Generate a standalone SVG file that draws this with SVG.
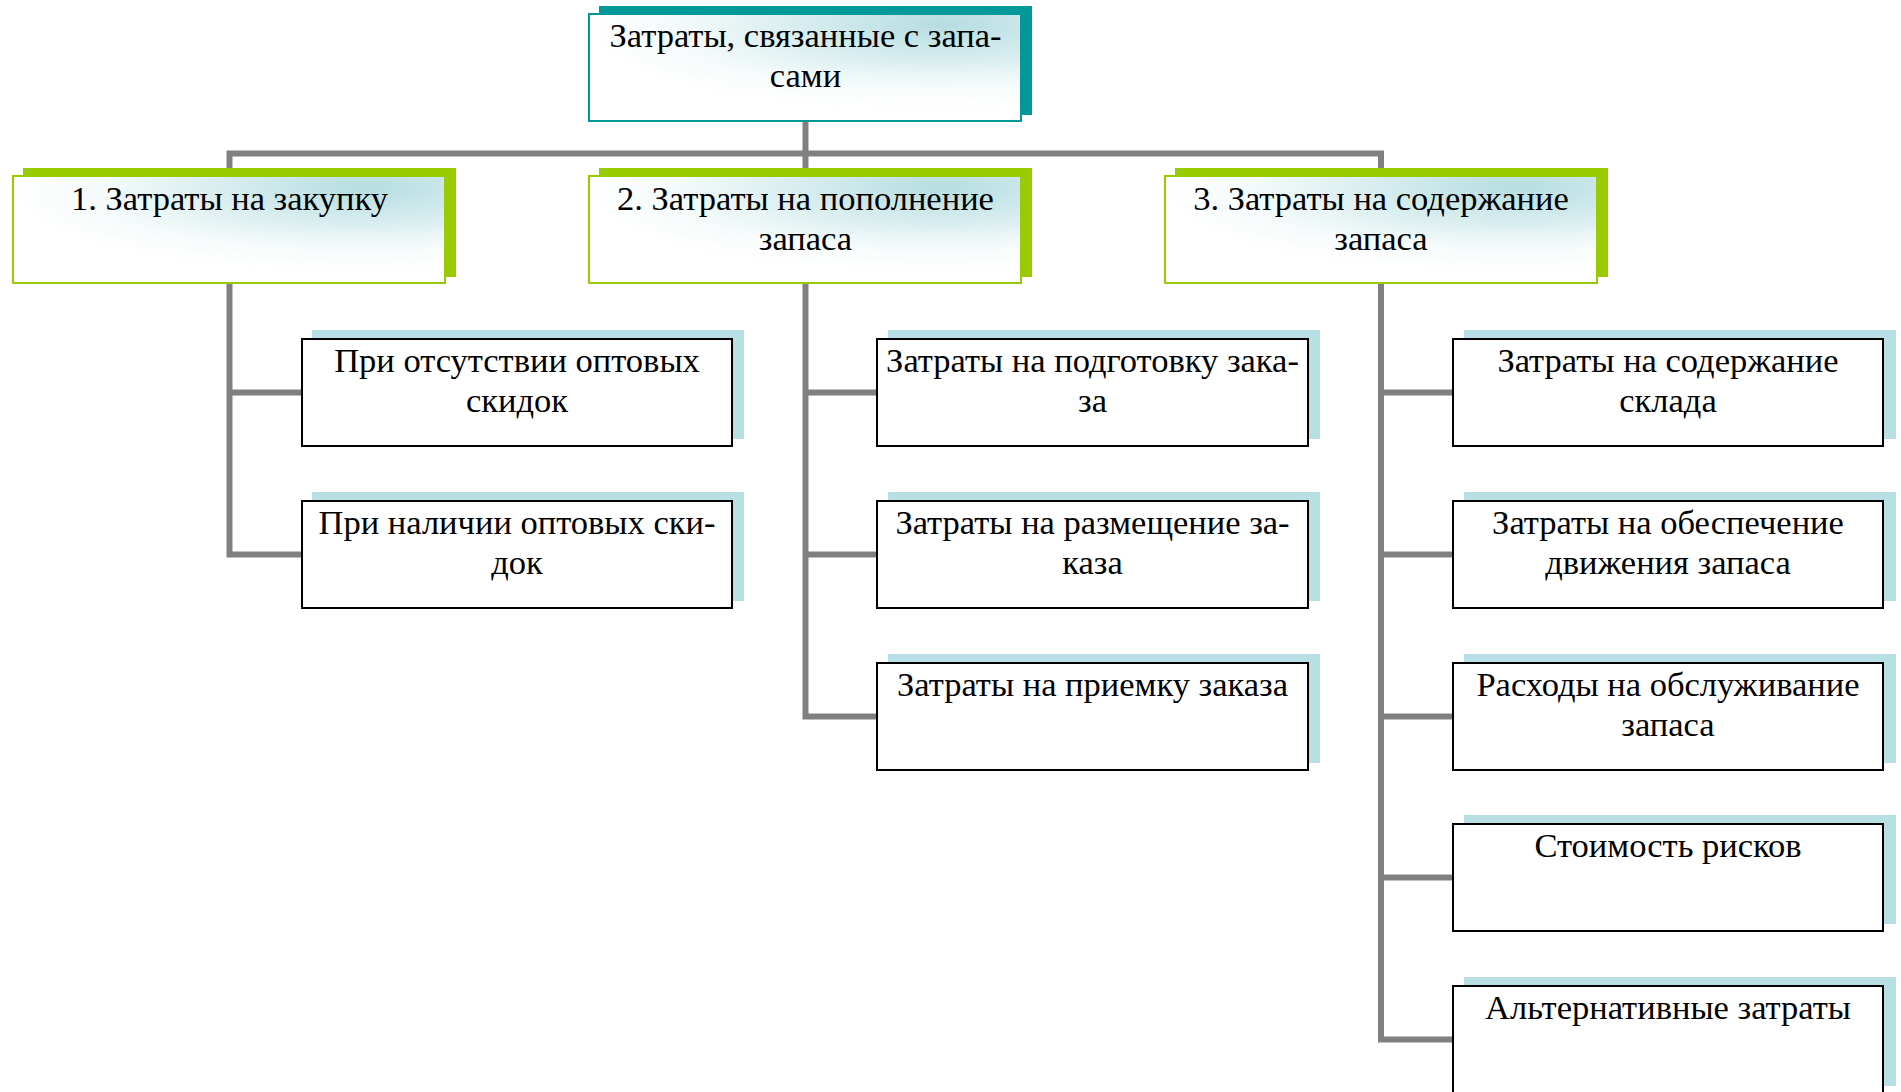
<svg xmlns="http://www.w3.org/2000/svg" width="1901" height="1092" viewBox="0 0 1901 1092">
  <defs>
    <radialGradient id="tint" cx="0.8" cy="0.12" r="0.8" fx="0.82" fy="0.1">
      <stop offset="0" stop-color="#b6dde1"/>
      <stop offset="0.35" stop-color="#d3ebed"/>
      <stop offset="0.75" stop-color="#f4fafa"/>
      <stop offset="1" stop-color="#ffffff"/>
    </radialGradient>
    <linearGradient id="fade" x1="0" y1="0" x2="0" y2="1">
      <stop offset="0.45" stop-color="#ffffff" stop-opacity="0"/>
      <stop offset="1" stop-color="#ffffff" stop-opacity="0.85"/>
    </linearGradient>
  </defs>
  <style>
    .conn { fill: none; stroke: #808080; stroke-width: 6; stroke-linejoin: miter; }
    .label { font-family: "Liberation Serif", "Times New Roman", serif; font-size: 34.5px; fill: #000; text-anchor: middle; }
    .root-shadow { fill: #009999; }
    .root-box { fill: url(#tint); stroke: #009999; stroke-width: 2; }
    .cat-shadow { fill: #99cc00; }
    .cat-box { fill: url(#tint); stroke: #99cc00; stroke-width: 2; }
    .fade { fill: url(#fade); }
    .leaf-shadow { fill: #b8dfe3; }
    .leaf-box { fill: #ffffff; stroke: #000000; stroke-width: 2; }
  </style>

  <rect width="1901" height="1092" fill="#ffffff"/>

  <!-- connectors -->
  <g id="connectors">
    <path class="conn" d="M805.5 122 V176"/>
    <path class="conn" d="M229.5 176 V153.5 H1381 V176"/>
    <!-- category 1 -->
    <path class="conn" d="M229.5 284 V554.5 H302"/>
    <path class="conn" d="M229.5 392.5 H302"/>
    <!-- category 2 -->
    <path class="conn" d="M805.5 284 V716.5 H877"/>
    <path class="conn" d="M805.5 392.5 H877"/>
    <path class="conn" d="M805.5 554.5 H877"/>
    <!-- category 3 -->
    <path class="conn" d="M1381 284 V1039.5 H1453"/>
    <path class="conn" d="M1381 392.5 H1453"/>
    <path class="conn" d="M1381 554.5 H1453"/>
    <path class="conn" d="M1381 716.5 H1453"/>
    <path class="conn" d="M1381 877.5 H1453"/>
  </g>

  <!-- root -->
  <g id="root">
    <rect class="root-shadow" x="599" y="6" width="433" height="109"/>
    <rect class="root-box" x="589" y="14" width="432" height="107"/>
    <rect class="fade" x="590" y="15" width="430" height="105"/>
    <text class="label" x="805.5" y="47">Затраты, связанные с запа-</text>
    <text class="label" x="805.5" y="87">сами</text>
  </g>

  <!-- category nodes -->
  <g id="cat1">
    <rect class="cat-shadow" x="23" y="168" width="433" height="109"/>
    <rect class="cat-box" x="13" y="176" width="432" height="107"/>
    <rect class="fade" x="14" y="177" width="430" height="105"/>
    <text class="label" x="229.5" y="210">1. Затраты на закупку</text>
  </g>
  <g id="cat2">
    <rect class="cat-shadow" x="599" y="168" width="433" height="109"/>
    <rect class="cat-box" x="589" y="176" width="432" height="107"/>
    <rect class="fade" x="590" y="177" width="430" height="105"/>
    <text class="label" x="805.5" y="210">2. Затраты на пополнение</text>
    <text class="label" x="805.5" y="250">запаса</text>
  </g>
  <g id="cat3">
    <rect class="cat-shadow" x="1175" y="168" width="433" height="109"/>
    <rect class="cat-box" x="1165" y="176" width="432" height="107"/>
    <rect class="fade" x="1166" y="177" width="430" height="105"/>
    <text class="label" x="1381" y="210">3. Затраты на содержание</text>
    <text class="label" x="1381" y="250">запаса</text>
  </g>

  <!-- category 1 items -->
  <g id="c1-r1">
    <rect class="leaf-shadow" x="312" y="330" width="432" height="109"/>
    <rect class="leaf-box" x="302" y="339" width="430" height="107"/>
    <text class="label" x="517" y="372">При отсутствии оптовых</text>
    <text class="label" x="517" y="412">скидок</text>
  </g>
  <g id="c1-r2">
    <rect class="leaf-shadow" x="312" y="492" width="432" height="109"/>
    <rect class="leaf-box" x="302" y="501" width="430" height="107"/>
    <text class="label" x="517" y="534">При наличии оптовых ски-</text>
    <text class="label" x="517" y="574">док</text>
  </g>

  <!-- category 2 items -->
  <g id="c2-r1">
    <rect class="leaf-shadow" x="888" y="330" width="432" height="109"/>
    <rect class="leaf-box" x="877" y="339" width="431" height="107"/>
    <text class="label" x="1092.5" y="372">Затраты на подготовку зака-</text>
    <text class="label" x="1092.5" y="412">за</text>
  </g>
  <g id="c2-r2">
    <rect class="leaf-shadow" x="888" y="492" width="432" height="109"/>
    <rect class="leaf-box" x="877" y="501" width="431" height="107"/>
    <text class="label" x="1092.5" y="534">Затраты на размещение за-</text>
    <text class="label" x="1092.5" y="574">каза</text>
  </g>
  <g id="c2-r3">
    <rect class="leaf-shadow" x="888" y="654" width="432" height="109"/>
    <rect class="leaf-box" x="877" y="663" width="431" height="107"/>
    <text class="label" x="1092.5" y="696">Затраты на приемку заказа</text>
  </g>

  <!-- category 3 items -->
  <g id="c3-r1">
    <rect class="leaf-shadow" x="1464" y="330" width="432" height="109"/>
    <rect class="leaf-box" x="1453" y="339" width="430" height="107"/>
    <text class="label" x="1668" y="372">Затраты на содержание</text>
    <text class="label" x="1668" y="412">склада</text>
  </g>
  <g id="c3-r2">
    <rect class="leaf-shadow" x="1464" y="492" width="432" height="109"/>
    <rect class="leaf-box" x="1453" y="501" width="430" height="107"/>
    <text class="label" x="1668" y="534">Затраты на обеспечение</text>
    <text class="label" x="1668" y="574">движения запаса</text>
  </g>
  <g id="c3-r3">
    <rect class="leaf-shadow" x="1464" y="654" width="432" height="109"/>
    <rect class="leaf-box" x="1453" y="663" width="430" height="107"/>
    <text class="label" x="1668" y="696">Расходы на обслуживание</text>
    <text class="label" x="1668" y="736">запаса</text>
  </g>
  <g id="c3-r4">
    <rect class="leaf-shadow" x="1464" y="815" width="432" height="109"/>
    <rect class="leaf-box" x="1453" y="824" width="430" height="107"/>
    <text class="label" x="1668" y="857">Стоимость рисков</text>
  </g>
  <g id="c3-r5">
    <rect class="leaf-shadow" x="1464" y="977" width="432" height="109"/>
    <rect class="leaf-box" x="1453" y="986" width="430" height="107"/>
    <text class="label" x="1668" y="1019">Альтернативные затраты</text>
  </g>
</svg>
